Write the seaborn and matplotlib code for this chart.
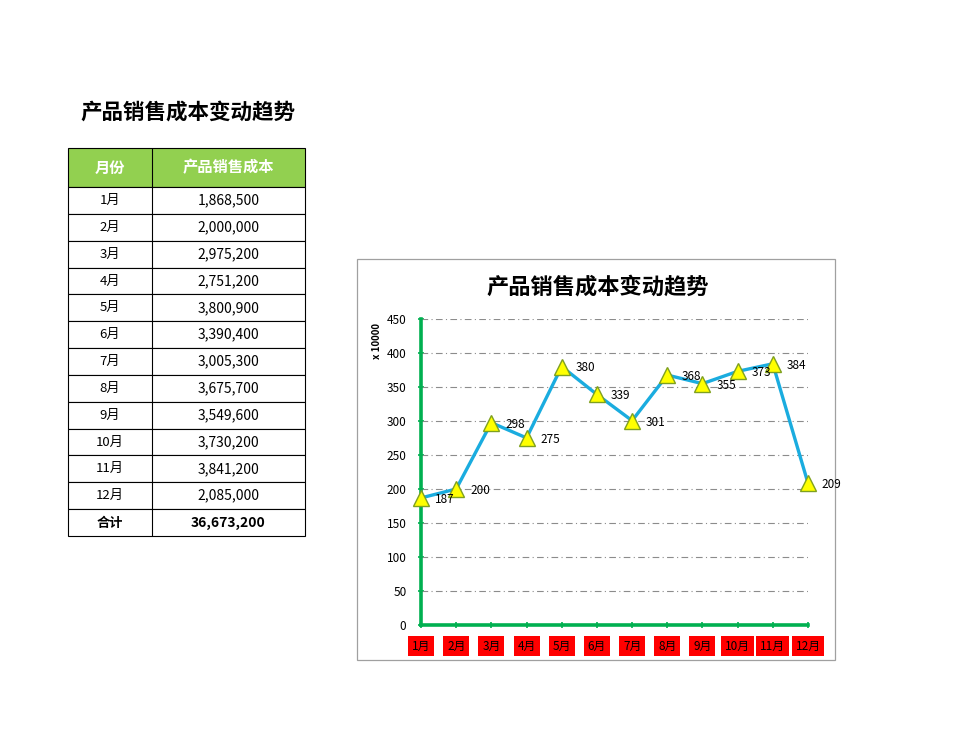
import matplotlib
matplotlib.use("Agg")
import matplotlib.pyplot as plt
from matplotlib.patches import Rectangle
import seaborn as sns
import pandas as pd

months = ["1月", "2月", "3月", "4月", "5月", "6月", "7月", "8月", "9月", "10月", "11月", "12月"]
costs = [1868500, 2000000, 2975200, 2751200, 3800900, 3390400, 3005300,
         3675700, 3549600, 3730200, 3841200, 2085000]
table_headers = ["月份", "产品销售成本"]
total_label = "合计"
page_title = "产品销售成本变动趋势"
chart_title = "产品销售成本变动趋势"
unit_label = "x 10000"
y_ticks = [0, 50, 100, 150, 200, 250, 300, 350, 400, 450]

sns.set_theme(style="white")
plt.rcParams['font.family'] = ['Noto Sans CJK SC', 'DejaVu Sans']
plt.rcParams['text.color'] = 'black'
plt.rcParams['xtick.color'] = 'black'
plt.rcParams['ytick.color'] = 'black'

W, H = 970, 741
fig = plt.figure(figsize=(W / 100, H / 100), dpi=100)
fig.patch.set_facecolor("white")

# overlay in pixel coordinates for the worksheet table
ov = fig.add_axes([0, 0, 1, 1])
ov.set_xlim(0, W)
ov.set_ylim(H, 0)
ov.axis("off")

ov.text(80, 112, page_title, fontsize=15.5, fontweight="bold", va="center", ha="left")

x0, xm, x1 = 68, 152, 305
hy0, hy1 = 148, 187
rh = (536 - 187) / 13
ov.add_patch(Rectangle((x0, hy0), x1 - x0, hy1 - hy0, facecolor="#92D050", edgecolor="black", lw=0.8))
ov.text((x0 + xm) / 2, (hy0 + hy1) / 2, table_headers[0], color="white", fontsize=11, fontweight="bold", ha="center", va="center")
ov.text((xm + x1) / 2, (hy0 + hy1) / 2, table_headers[1], color="white", fontsize=11, fontweight="bold", ha="center", va="center")
ov.plot([xm, xm], [hy0, hy1], color="black", lw=0.8)

rows = list(zip(months, [f"{v:,}" for v in costs])) + [(total_label, f"{sum(costs):,}")]
for i, (m, v) in enumerate(rows):
    ya = hy1 + i * rh
    yb = ya + rh
    bold = (i == len(rows) - 1)
    ov.add_patch(Rectangle((x0, ya), x1 - x0, rh, facecolor="white", edgecolor="black", lw=0.8))
    ov.plot([xm, xm], [ya, yb], color="black", lw=0.8)
    ov.text((x0 + xm) / 2, (ya + yb) / 2, m, fontsize=9.5, ha="center", va="center",
            fontweight="bold" if bold else "normal")
    ov.text((xm + x1) / 2, (ya + yb) / 2, v, fontsize=10, ha="center", va="center",
            fontweight="bold" if bold else "normal")

# chart frame
ov.add_patch(Rectangle((357, 259), 835 - 357, 660 - 259, facecolor="white", edgecolor="#A0A0A0", lw=0.9))
ov.text(598, 287, chart_title, fontsize=16, fontweight="bold", ha="center", va="center")
ov.text(377, 341, unit_label, fontsize=7, fontweight="bold", rotation=90, ha="center", va="center")

# chart axes
L, R, T, B = 421, 808, 319, 625
ax = fig.add_axes([L / W, 1 - B / H, (R - L) / W, (B - T) / H])
ax.set_facecolor("none")

df = pd.DataFrame({"idx": list(range(len(months))), "val": [c / 10000 for c in costs]})
sns.lineplot(data=df, x="idx", y="val", ax=ax, color="#1AACDF", lw=2.4,
             marker="^", markersize=11, markerfacecolor="#FFFF00",
             markeredgecolor="#7FA020", markeredgewidth=1.0, zorder=5, clip_on=False)

for i, v in enumerate(costs):
    yv = v / 10000
    lab = str(int(v / 10000 + 0.5))
    ax.annotate(lab, (i, yv), xytext=(10, -1), textcoords="offset points",
                fontsize=8.5, ha="left", va="center", zorder=6, annotation_clip=False)

ax.set_xlim(0, len(months) - 1)
ax.set_ylim(0, 450)
ax.set_yticks(y_ticks)
ax.set_yticklabels([str(t) for t in y_ticks], fontsize=8.5)
ax.set_xticks(range(len(months)))
ax.set_xticklabels(months, fontsize=8.5)
for t in ax.get_xticklabels():
    t.set_bbox(dict(facecolor="#FF0000", edgecolor="none", pad=2.8))
ax.set_xlabel("")
ax.set_ylabel("")

for yv in y_ticks[1:]:
    ax.axhline(yv, color="#8C8C8C", lw=0.8, ls=(0, (6, 3, 1, 3)), zorder=1)

for s in ["top", "right"]:
    ax.spines[s].set_visible(False)
for s in ["left", "bottom"]:
    ax.spines[s].set_color("#00B050")
    ax.spines[s].set_linewidth(2.6)
ax.tick_params(axis="both", which="both", direction="inout", length=5, width=1.2,
               color="#00B050", labelcolor="black", left=True, bottom=True)
ax.tick_params(axis="y", pad=8)
ax.tick_params(axis="x", pad=8)

fig.savefig("out.png", dpi=100, facecolor="white")
